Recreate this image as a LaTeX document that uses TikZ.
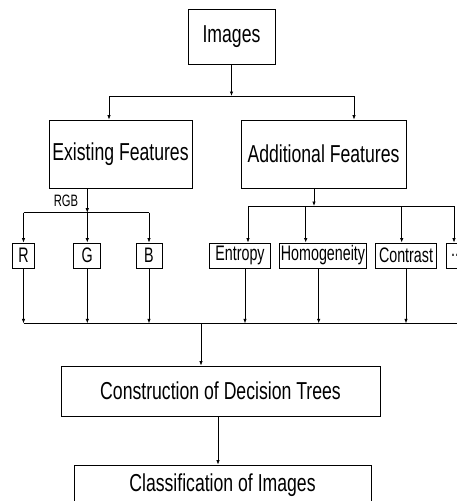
\documentclass[tikz,border=0pt]{standalone}
\usepackage{fontspec}
\setmainfont[FakeStretch=0.72]{Liberation Sans}
\newfontfamily\featfont[FakeStretch=0.68]{Liberation Sans}
\usetikzlibrary{arrows.meta}

\begin{document}
\begin{tikzpicture}[x=1pt,y=-1pt,
    box/.style={draw,line width=0.9pt,inner sep=0pt,align=center},
    bigbox/.style={box,font=\fontsize{24.5}{28}\selectfont},
    featbox/.style={box,font=\featfont\fontsize{21}{24}\selectfont,minimum height=25pt},
    arr/.style={-{Latex[length=4.5pt,width=3.5pt]},line width=0.7pt}]

    % fix the page to the size of the original
    \useasboundingbox (0,0) rectangle (457,501);

    % draw the main boxes
    \node[bigbox,minimum width=87pt,minimum height=55pt] (img) at (231.5,36.5) {Images};
    \node[bigbox,minimum width=143pt,minimum height=68pt] (exist) at (120.5,154) {Existing Features};
    \node[bigbox,minimum width=165pt,minimum height=68pt] (addit) at (323.5,154) {Additional Features};
    \node[bigbox,minimum width=319pt,minimum height=50pt] (cons) at (220.5,391) {Construction of Decision Trees};
    \node[bigbox,minimum width=297pt,minimum height=40pt] (clas) at (222.5,485) {Classification of Images};

    % draw the feature boxes
    \foreach \name/\x/\w/\txt in {r/23.5/22/R, g/87.3/27/G, b/149/26/B, ent/240/61/Entropy,
                                  hom/323/87/Homogeneity, con/406/61/Contrast, more/457/22/{.{}.{}.}} {
      \node[featbox,minimum width=\w pt] (\name) at (\x,255.5) {\txt};
    }
    \node[font=\featfont\fontsize{16.5}{19}\selectfont,inner sep=0pt] (rgb) at (66,201) {RGB};

    % top split
    \coordinate (tl) at (109,96);
    \coordinate (tr) at (354,96);
    \draw[line width=0.7pt] (tl) -- (tr);
    \draw[arr] (img) -- (img |- tl);
    \draw[arr] (tl) -- (tl |- exist.north);
    \draw[arr] (tr) -- (tr |- addit.north);

    % split into R, G, B
    \coordinate (rgbl) at (r |- 0,212.7);
    \coordinate (rgbr) at (b |- 0,212.7);
    \draw[line width=0.7pt] (rgbl) -- (rgbr);
    \draw[arr] (exist.south -| g) -- (g |- rgbl);
    \foreach \n in {r,g,b} {
      \draw[arr] (\n |- rgbl) -- (\n);
    }

    % split into the additional features
    \coordinate (fl) at (248,206);
    \coordinate (fr) at (454,206);
    \draw[line width=0.7pt] (fl) -- (fr);
    \draw[arr] (addit.south -| 314,0) -- (314,206);
    \foreach \n/\x in {ent/248, hom/305.7, con/401.7, more/454} {
      \draw[arr] (\x,206) -- (\x,206 |- \n.north);
    }

    % collect everything again
    \coordinate (bl) at (r |- 0,323.3);
    \coordinate (br) at (462,323.3);
    \draw[line width=0.7pt] (bl) -- (br);
    \foreach \n/\x in {r/23.5, g/87.3, b/149, ent/245, hom/318.7, con/406} {
      \draw[arr] (\n.south -| \x,0) -- (\x,323.3);
    }

    % decision trees and classification
    \draw[arr] (201,323.3) -- (201,323.3 |- cons.north);
    \draw[arr] (cons.south -| 218,0) -- (218,0 |- clas.north);

\end{tikzpicture}
\end{document}
